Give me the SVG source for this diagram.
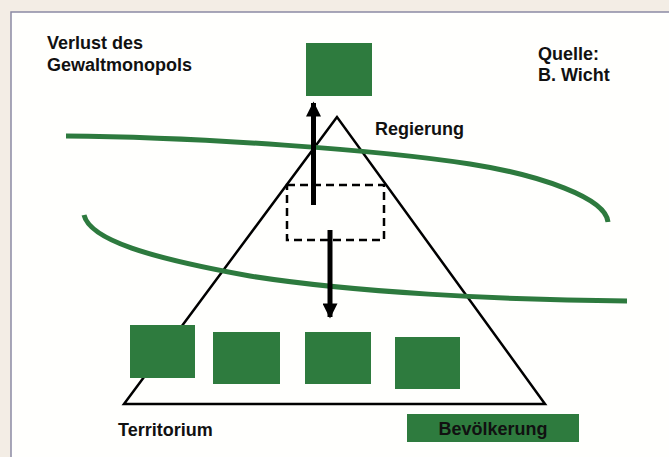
<svg xmlns="http://www.w3.org/2000/svg" width="669" height="457" viewBox="0 0 669 457">
<style>
  .t { font-family: "Liberation Sans", Arial, sans-serif; font-weight: bold; font-size: 18px; fill: #111; }
  .box { fill: #2e7b3e; }
  .curve { fill: none; stroke: #2d7a3e; stroke-width: 5; stroke-linecap: butt; }
  .arrow { stroke: #000; stroke-width: 5; fill: none; }
</style>
<defs>
  <marker id="ah" viewBox="0 0 10 10" refX="9" refY="5" markerWidth="3.6" markerHeight="3" orient="auto" markerUnits="strokeWidth">
    <path d="M0,0 L10,5 L0,10 Z" fill="#000"/>
  </marker>
</defs>
<rect x="0" y="0" width="669" height="457" fill="#f3ede5"/>
<rect x="11" y="12" width="680" height="470" fill="#fffffd" stroke="#8c8aa4" stroke-width="1.5"/>

<g id="pyramid">
  <polygon points="337,117 124,404 545,404" fill="none" stroke="#000" stroke-width="2.5" stroke-linejoin="miter"/>
</g>

<g id="dashed-box">
  <rect x="287" y="185" width="97" height="55" fill="none" stroke="#000" stroke-width="2.5" stroke-dasharray="8,5"/>
</g>

<g id="curves">
  <path class="curve" d="M66,136 C200,137 380,150 470,164 C540,175 606,198 608,222"/>
  <path class="curve" d="M84,215 C90,240 150,258 250,276 C350,292 500,300 627,301"/>
</g>

<g id="top-square"><rect class="box" x="306" y="43" width="66" height="53"/></g>
<g id="square-1"><rect class="box" x="130" y="325" width="65" height="53"/></g>
<g id="square-2"><rect class="box" x="213" y="332" width="67" height="52"/></g>
<g id="square-3"><rect class="box" x="305" y="332" width="66" height="52"/></g>
<g id="square-4"><rect class="box" x="395" y="337" width="65" height="52"/></g>

<g id="connectors">
  <line class="arrow" x1="313.5" y1="205" x2="313.5" y2="103" marker-end="url(#ah)"/>
  <line class="arrow" x1="330" y1="230" x2="330" y2="317" marker-end="url(#ah)"/>
</g>

<g id="title"><text class="t" x="47" y="49">Verlust des</text><text class="t" x="47" y="71">Gewaltmonopols</text></g>
<g id="source"><text class="t" x="538" y="60">Quelle:</text><text class="t" x="538" y="81">B. Wicht</text></g>
<g id="regierung"><text class="t" x="375" y="135">Regierung</text></g>
<g id="territorium"><text class="t" x="118" y="436">Territorium</text></g>
<g id="bevoelkerung">
  <rect class="box" x="407" y="414" width="172" height="28"/>
  <text class="t" x="493" y="435" text-anchor="middle" fill="#0a0a0a">Bevölkerung</text>
</g>
</svg>
